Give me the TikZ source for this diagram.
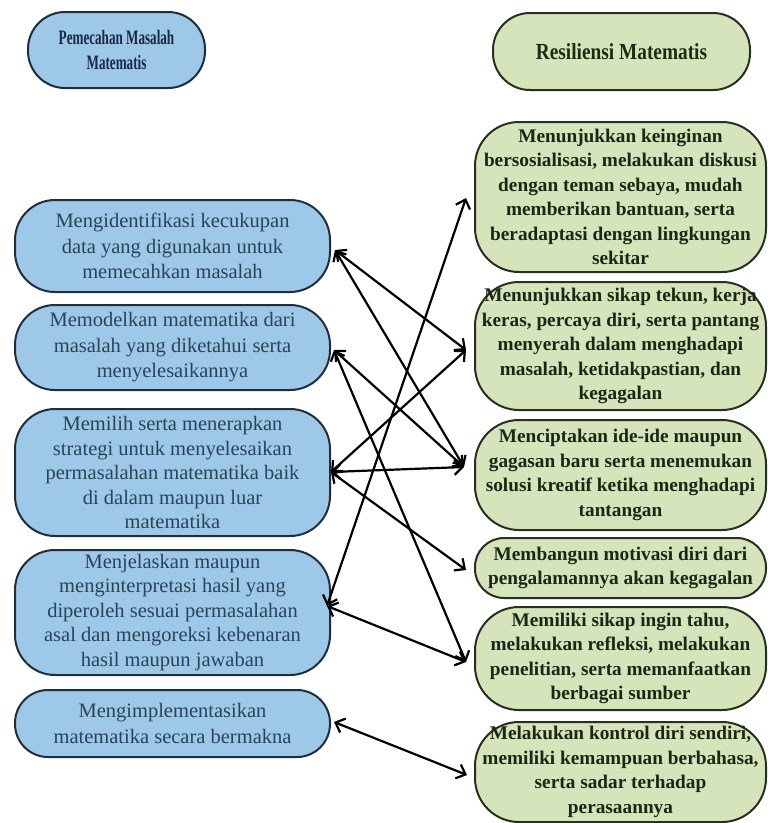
\documentclass[tikz,border=0pt]{standalone}
\usepackage{fontspec}
\setmainfont{Liberation Serif}
\newfontfamily\headfontL[FakeStretch=0.64]{Liberation Serif}
\newfontfamily\headfontR[FakeStretch=0.84]{Liberation Serif}
\usetikzlibrary{arrows.meta}
\definecolor{bfill}{HTML}{9DC8E8}
\definecolor{gfill}{HTML}{D6E4BC}
\definecolor{bdraw}{HTML}{1E2E3E}
\definecolor{gdraw}{HTML}{26301E}
\definecolor{btext}{HTML}{2A4456}
\definecolor{gtext}{HTML}{1C2614}
\definecolor{hltext}{HTML}{1A2844}
\definecolor{hrtext}{HTML}{1E2A12}
\begin{document}
\begin{tikzpicture}[x=1pt,y=-1pt,
 lbox/.style={draw=bdraw, fill=bfill, line width=2pt, rounded corners=40pt, minimum width=315pt, align=center, text=btext, font=\fontsize{20.5}{25.5}\selectfont, inner sep=0pt},
 rbox/.style={draw=gdraw, fill=gfill, line width=2pt, rounded corners=44pt, minimum width=291pt, align=center, text=gtext, font=\fontsize{19.3}{24.5}\selectfont\bfseries, inner sep=0pt},
 link/.style={line width=2.2pt, {Straight Barb[length=8pt,width=15pt]}-{Straight Barb[length=8pt,width=15pt]}}]
\useasboundingbox (0,0) rectangle (768,823);
% headers
\node[lbox, minimum width=177pt, minimum height=76pt, rounded corners=37pt, font=\headfontL\fontsize{20.5}{25}\selectfont\bfseries, text=hltext] (HL) at (116.5,50) {Pemecahan Masalah\\Matematis};
\node[rbox, minimum width=257pt, minimum height=77pt, rounded corners=37pt, font=\headfontR\fontsize{23}{25}\selectfont\bfseries, text=hrtext] (HR) at (621.5,51.5) {Resiliensi Matematis};
% left boxes
\node[lbox, minimum height=92pt] (L1) at (172.5,246) {Mengidentifikasi kecukupan\\data yang digunakan untuk\\memecahkan masalah};
\node[lbox, minimum height=85pt] (L2) at (172.5,347.5) {Memodelkan matematika dari\\masalah yang diketahui serta\\menyelesaikannya};
\node[lbox, minimum height=127pt, font=\fontsize{20.5}{24.5}\selectfont] (L3) at (172.5,472.5) {Memilih serta menerapkan\\strategi untuk menyelesaikan\\permasalahan matematika baik\\di dalam maupun luar\\matematika};
\node[lbox, minimum height=125pt, font=\fontsize{20.5}{24.5}\selectfont] (L4) at (172.5,612.5) {Menjelaskan maupun\\menginterpretasi hasil yang\\diperoleh sesuai permasalahan\\asal dan mengoreksi kebenaran\\hasil maupun jawaban};
\node[lbox, minimum height=67pt, rounded corners=33pt] (L5) at (172.5,723.5) {Mengimplementasikan\\matematika secara bermakna};
% right boxes
\node[rbox, minimum height=150pt] (R1) at (620.5,197) {Menunjukkan keinginan\\bersosialisasi, melakukan diskusi\\dengan teman sebaya, mudah\\memberikan bantuan, serta\\beradaptasi dengan lingkungan\\sekitar};
\node[rbox, minimum height=128pt] (R2) at (620.5,346) {Menunjukkan sikap tekun, kerja\\keras, percaya diri, serta pantang\\menyerah dalam menghadapi\\masalah, ketidakpastian, dan\\kegagalan};
\node[rbox, minimum height=110pt] (R3) at (620.5,475) {Menciptakan ide-ide maupun\\gagasan baru serta menemukan\\solusi kreatif ketika menghadapi\\tantangan};
\node[rbox, minimum height=60pt, rounded corners=29pt] (R4) at (620.5,568) {Membangun motivasi diri dari\\pengalamannya akan kegagalan};
\node[rbox, minimum height=103pt] (R5) at (620.5,658.5) {Memiliki sikap ingin tahu,\\melakukan refleksi, melakukan\\penelitian, serta memanfaatkan\\berbagai sumber};
\node[rbox, minimum height=100pt] (R6) at (620.5,772) {Melakukan kontrol diri sendiri,\\memiliki kemampuan berbahasa,\\serta sadar terhadap\\perasaannya};
% arrow end points
\coordinate (aL1) at ([shift={(4,4)}]L1.east);
\coordinate (aL2) at ([shift={(3,2.5)}]L2.east);
\coordinate (aL3) at ([shift={(0,-0.5)}]L3.east);
\coordinate (aL4) at ([shift={(-4,-6.5)}]L4.east);
\coordinate (aL5) at ([shift={(3,-1.5)}]L5.east);
\coordinate (aR1) at ([shift={(-8,1)}]R1.west);
\coordinate (aR2) at ([shift={(-8,4)}]R2.west);
\coordinate (aR3) at ([shift={(-10,-8)}]R3.west);
\coordinate (aR4) at ([shift={(-8,2)}]R4.west);
\coordinate (aR5) at ([shift={(-8,3.5)}]R5.west);
\coordinate (aR6) at ([shift={(-7,3)}]R6.west);
% connectors
\draw[link] (aL1) -- (aR2);
\draw[link] (aL1) -- (aR3);
\draw[link] (aL2) -- (aR3);
\draw[link] (aL2) -- (aR5);
\draw[link] (aL3) -- (aR2);
\draw[link] (aL3) -- (aR3);
\draw[link] (aL3) -- (aR4);
\draw[link] (aL4) -- (aR1);
\draw[link] (aL4) -- (aR5);
\draw[link] (aL5) -- (aR6);
\end{tikzpicture}
\end{document}
